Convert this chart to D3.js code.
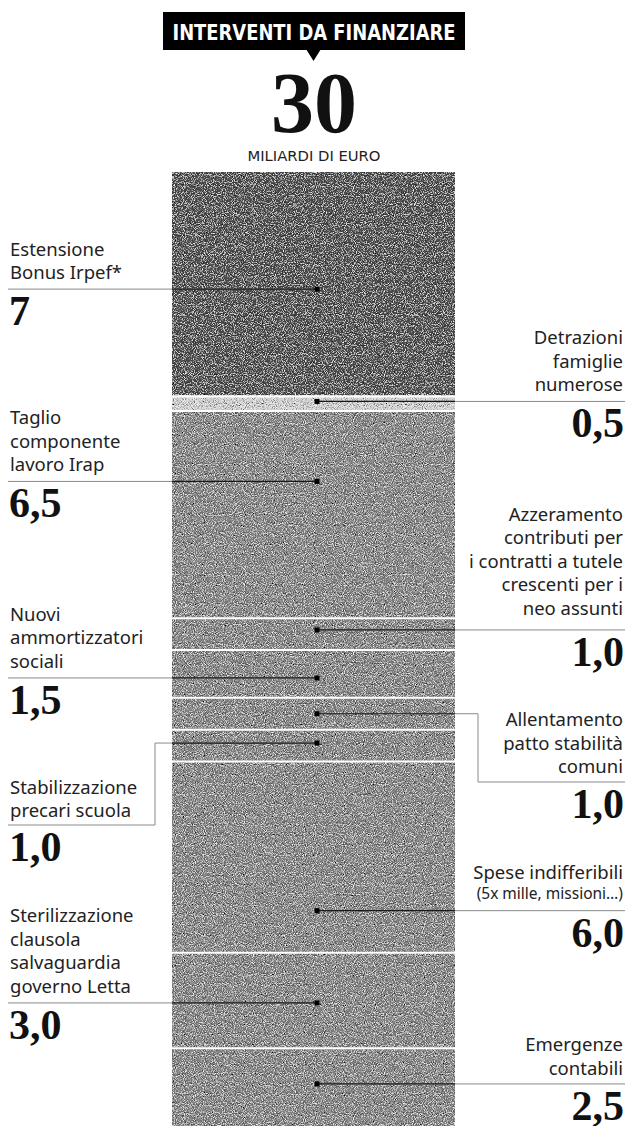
<!DOCTYPE html>
<html>
<head>
<meta charset="utf-8">
<script src="https://cdn.jsdelivr.net/npm/d3@7"></script>
<style>
body { margin: 0; background: #fff; }
svg { display: block; }
</style>
</head>
<body>
<div id="vis"></div>
<script>
// chart data
var title = "INTERVENTI DA FINANZIARE";
var totalLabel = "30";
var unitLabel = "MILIARDI DI EURO";
var total = 30;

var labelLines = [
    ["Estensione", "Bonus Irpef*"],
    ["Detrazioni", "famiglie", "numerose"],
    ["Taglio", "componente", "lavoro Irap"],
    ["Azzeramento", "contributi per", "i contratti a tutele", "crescenti per i", "neo assunti"],
    ["Nuovi", "ammortizzatori", "sociali"],
    ["Allentamento", "patto stabilità", "comuni"],
    ["Stabilizzazione", "precari scuola"],
    ["Spese indifferibili"],
    ["Sterilizzazione", "clausola", "salvaguardia", "governo Letta"],
    ["Emergenze", "contabili"]
];
var notes = [null, null, null, null, null, null, null, "(5x mille, missioni…)", null, null];
var values = [7, 0.5, 6.5, 1.0, 1.5, 1.0, 1.0, 6.0, 3.0, 2.5];
var valueLabels = ["7", "0,5", "6,5", "1,0", "1,5", "1,0", "1,0", "6,0", "3,0", "2,5"];

// layout (label side, where the dot sits inside its slice, elbow leaders)
var sides = ["left", "right", "left", "right", "left", "right", "left", "right", "left", "right"];
var dotFrac = [0.525, 0.4, 0.34, 0.37, 0.585, 0.5, 0.42, 0.78, 0.525, 0.447];
var labelLineY = [null, null, null, null, null, 782, 825, null, null, null];
var elbowX = [null, null, null, null, null, 478, 155, null, null, null];
var textGap = [10, 10, 10, 15, 10, 9, 8, 12, 10, 9];

var width = 633;
var height = 1126;

var barLeft = 172, barRight = 455, dotX = 317;
var textLeft = 10, textRight = 623;
var lineH = 23.5;

var svg = d3.select("#vis")
    .append("svg")
        .attr("width", width)
        .attr("height", height);

// halftone-ish grain for the bar
var defs = svg.append("defs");
var grain = defs.append("filter")
    .attr("id", "grain")
    .attr("x", 0).attr("y", 0).attr("width", 1).attr("height", 1);
grain.append("feTurbulence")
    .attr("type", "fractalNoise")
    .attr("baseFrequency", 1.1)
    .attr("numOctaves", 1)
    .attr("seed", 4)
    .attr("result", "noise");
grain.append("feColorMatrix")
    .attr("in", "noise")
    .attr("type", "saturate")
    .attr("values", 0)
    .attr("result", "gray");
var ct = grain.append("feComponentTransfer")
    .attr("in", "gray")
    .attr("result", "contrast");
["feFuncR", "feFuncG", "feFuncB"].forEach(function(f){
    ct.append(f).attr("type", "linear").attr("slope", 2.2).attr("intercept", -0.6);
});
ct.append("feFuncA").attr("type", "linear").attr("slope", 0).attr("intercept", 1);
grain.append("feBlend")
    .attr("in", "SourceGraphic")
    .attr("in2", "contrast")
    .attr("mode", "overlay")
    .attr("result", "mix");
grain.append("feComposite")
    .attr("in", "mix")
    .attr("in2", "SourceGraphic")
    .attr("operator", "in");

var y = d3.scaleLinear()
    .domain([0, total])
    .range([172, 1128]);

var ends = Array.from(d3.cumsum(values));
var segs = values.map(function(v, i) {
    var start = ends[i] - v;
    return {
        i: i,
        v: v,
        start: start,
        end: ends[i],
        dotY: y(start + v * dotFrac[i])
    };
});

function segFill(i)
{
    if(i == 0) return "#4f4f4f";
    if(i == 1) return "#d2d2d2";
    return "#878787";
}

// header
var sans = "'Noto Sans', 'Open Sans', sans-serif";
var cond = "'DejaVu Sans Condensed', 'DejaVu Sans', sans-serif";
var serif = "'Liberation Serif', 'DejaVu Serif', serif";

svg.append("rect")
    .attr("x", 163).attr("y", 12)
    .attr("width", 302).attr("height", 38)
    .attr("fill", "#000");
svg.append("path")
    .attr("d", "M306,49 L321,49 L313.5,61 Z")
    .attr("fill", "#000");
svg.append("text")
    .attr("x", 314).attr("y", 39.5)
    .attr("text-anchor", "middle")
    .attr("fill", "#fff")
    .attr("font-family", cond)
    .attr("font-stretch", "condensed")
    .attr("font-weight", "bold")
    .attr("font-size", 20.5)
    .attr("textLength", 283)
    .attr("lengthAdjust", "spacingAndGlyphs")
    .text(title);
svg.append("text")
    .attr("x", 314).attr("y", 132)
    .attr("text-anchor", "middle")
    .attr("fill", "#111")
    .attr("font-family", serif)
    .attr("font-weight", "bold")
    .attr("font-size", 86)
    .text(totalLabel);
svg.append("text")
    .attr("x", 314).attr("y", 161)
    .attr("text-anchor", "middle")
    .attr("fill", "#222")
    .attr("font-family", cond)
    .attr("font-stretch", "condensed")
    .attr("font-size", 14)
    .attr("textLength", 133)
    .attr("lengthAdjust", "spacingAndGlyphs")
    .text(unitLabel);

// stacked bar
svg.selectAll(".seg")
    .data(segs)
    .enter()
    .append("rect")
        .attr("class", "seg")
        .attr("x", barLeft)
        .attr("width", barRight - barLeft)
        .attr("y", function(d){ return y(d.start); })
        .attr("height", function(d){ return y(d.end) - y(d.start); })
        .attr("fill", function(d){ return segFill(d.i); })
        .attr("filter", "url(#grain)");

// white separators between slices below the dark one
svg.selectAll(".sep")
    .data(segs.filter(function(d){ return d.i >= 1; }))
    .enter()
    .append("line")
        .attr("class", "sep")
        .attr("x1", barLeft).attr("x2", barRight)
        .attr("y1", function(d){ return y(d.start) + (d.i == 1 ? 1.5 : 0); })
        .attr("y2", function(d){ return y(d.start) + (d.i == 1 ? 1.5 : 0); })
        .attr("stroke", "#fff")
        .attr("stroke-width", 2);

// leaders
function leaderPoints(d)
{
    var i = d.i;
    var ly = labelLineY[i] == null ? d.dotY : labelLineY[i];
    if(sides[i] == "left") {
        if(elbowX[i] == null) return [[8, ly], [dotX, ly]];
        return [[8, ly], [elbowX[i], ly], [elbowX[i], d.dotY], [dotX, d.dotY]];
    }
    if(elbowX[i] == null) return [[dotX, ly], [625, ly]];
    return [[dotX, d.dotY], [elbowX[i], d.dotY], [elbowX[i], ly], [625, ly]];
}

var line = d3.line();

svg.selectAll(".leader")
    .data(segs)
    .enter()
    .append("path")
        .attr("class", "leader")
        .attr("d", function(d){ return line(leaderPoints(d)); })
        .attr("fill", "none")
        .attr("stroke", "#8a8a8a")
        .attr("stroke-width", 1);

svg.selectAll(".leaderIn")
    .data(segs)
    .enter()
    .append("line")
        .attr("class", "leaderIn")
        .attr("x1", function(d){ return sides[d.i] == "left" ? barLeft : barRight; })
        .attr("x2", dotX)
        .attr("y1", function(d){ return d.dotY; })
        .attr("y2", function(d){ return d.dotY; })
        .attr("stroke", "#1a1a1a")
        .attr("stroke-width", 1.2);

svg.selectAll(".dot")
    .data(segs)
    .enter()
    .append("rect")
        .attr("class", "dot")
        .attr("x", dotX - 2.5)
        .attr("y", function(d){ return d.dotY - 2.5; })
        .attr("width", 5).attr("height", 5)
        .attr("fill", "#000");

// labels
var labels = svg.selectAll(".label")
    .data(segs)
    .enter()
    .append("g")
        .attr("class", "label");

labels.each(function(d){
    var g = d3.select(this);
    var i = d.i;
    var ly = labelLineY[i] == null ? d.dotY : labelLineY[i];
    var left = sides[i] == "left";
    var tx = left ? textLeft : textRight;
    var anchor = left ? "start" : "end";
    var rows = labelLines[i].map(function(s){ return {s: s, note: false}; });
    if(notes[i]) rows.push({s: notes[i], note: true});
    var n = rows.length;
    var step = notes[i] ? 20 : lineH;
    rows.forEach(function(r, k){
        g.append("text")
            .attr("x", tx)
            .attr("y", ly - textGap[i] - (n - 1 - k) * step)
            .attr("text-anchor", anchor)
            .attr("fill", "#222")
            .attr("font-family", sans)
            .attr("font-size", r.note ? 15.5 : 18.5)
            .text(r.s);
    });
    g.append("text")
        .attr("x", left ? tx - 1 : tx + 1)
        .attr("y", ly + 36)
        .attr("text-anchor", anchor)
        .attr("fill", "#111")
        .attr("font-family", serif)
        .attr("font-weight", "bold")
        .attr("font-size", 42)
        .text(valueLabels[i]);
});
</script>
</body>
</html>
